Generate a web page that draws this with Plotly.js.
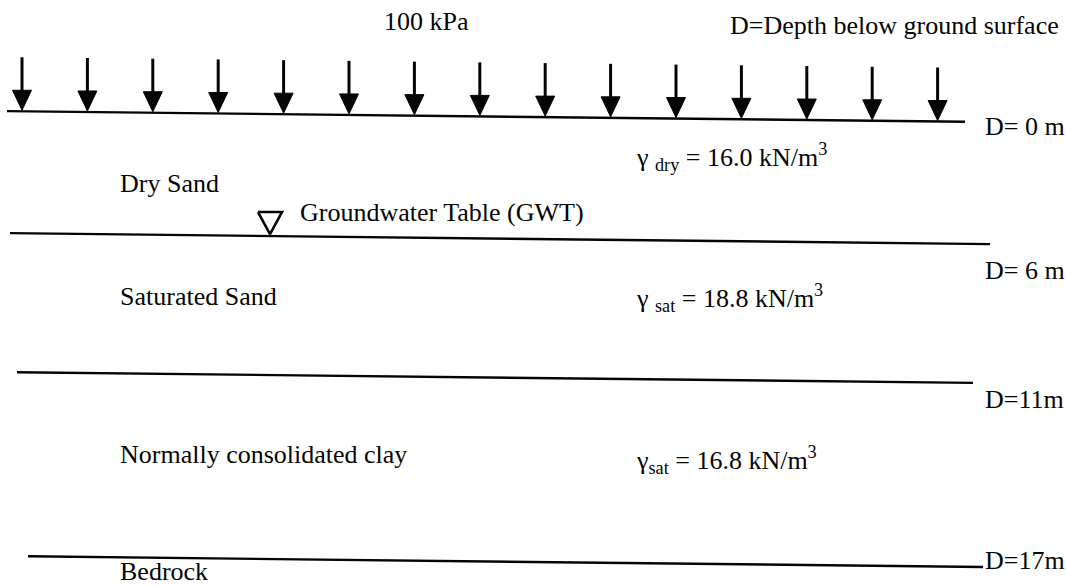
<!DOCTYPE html>
<html>
<head>
<meta charset="utf-8">
<script src="https://cdn.plot.ly/plotly-3.0.1.min.js"></script>
<style>
  html, body { margin: 0; padding: 0; background: #ffffff; }
  #chart { width: 1066px; height: 586px; }
</style>
</head>
<body>
<div id="chart"></div>
<script>
// ---------------- DATA ----------------
const surchargeKPa = 100;
const surchargeArrowCount = 15;
const depthNote = "D=Depth below ground surface";
const boundaryDepthsM = [0, 6, 11, 17];
const depthLabels = ["D= 0 m", "D= 6 m", "D=11m", "D=17m"];
const layerNames = ["Dry Sand", "Saturated Sand", "Normally consolidated clay", "Bedrock"];
const unitWeightKinds = ["dry", "sat", "sat"];
const unitWeightValues = [16.0, 18.8, 16.8];
const gwtLabel = "Groundwater Table (GWT)";
const gwtDepthM = 6;

// ---------------- DRAWING (schematic, not to scale) ----------------
const W = 1066, H = 586;
const ink = "#050505";
const fontFamily = "Liberation Serif, Times New Roman, serif";
const fontSize = 26;
// schematic vertical position of each boundary (left end) and skew of the scan
const schematicY = {0: 111, 6: 233, 11: 372, 17: 556};
const skew = 0.0112;
const lineLeftX = [7, 10, 17, 28];
const lineRightX = [965, 990, 973, 983];
function yAt(depth, x) { return schematicY[depth] + skew * x; }

const arrowStartX = 22, arrowSpacing = 65.4, arrowLen = 53, headW = 19, headH = 20;
const labelLeftX = 118, weightLeftX = 634, depthLabelX = 983;
const layerLabelY = [183, 296, 454, 571];
const weightLabelY = [157, 298, 460];
const weightGap = [" ", " ", ""];
const depthLabelY = [126, 270, 399, 560];

const traces = [];

// boundary lines
boundaryDepthsM.forEach((d, i) => {
  traces.push({
    type: "scatter", mode: "lines",
    x: [lineLeftX[i], lineRightX[i]],
    y: [yAt(d, lineLeftX[i]), yAt(d, lineRightX[i])],
    line: {color: ink, width: 2.4},
    hoverinfo: "skip"
  });
});

// surcharge arrows
const shaftX = [], shaftY = [], headX = [], headY = [];
for (let i = 0; i < surchargeArrowCount; i++) {
  const x = arrowStartX + i * arrowSpacing;
  const tip = yAt(boundaryDepthsM[0], x) - 1;
  shaftX.push(x, x, null);
  shaftY.push(tip - arrowLen, tip - headH + 2, null);
  headX.push(x - headW / 2, x + headW / 2, x, x - headW / 2, null);
  headY.push(tip - headH, tip - headH, tip, tip - headH, null);
}
traces.push({type: "scatter", mode: "lines", x: shaftX, y: shaftY,
  line: {color: ink, width: 3}, hoverinfo: "skip"});
traces.push({type: "scatter", mode: "lines", x: headX, y: headY, fill: "toself",
  fillcolor: ink, line: {color: ink, width: 1}, hoverinfo: "skip"});

// groundwater table symbol (inverted triangle)
const triCx = 270, triW = 24, triH = 22;
const triTip = yAt(gwtDepthM, triCx) - 2;
traces.push({
  type: "scatter", mode: "lines",
  x: [triCx - triW / 2, triCx + triW / 2, triCx, triCx - triW / 2],
  y: [triTip - triH, triTip - triH, triTip, triTip - triH],
  line: {color: ink, width: 2.6}, hoverinfo: "skip"
});

// ---------------- TEXT ----------------
const annotations = [];
function txt(text, x, y, anchor) {
  annotations.push({
    text: text, x: x, y: y, xref: "x", yref: "y",
    xanchor: anchor || "left", yanchor: "middle", showarrow: false,
    font: {family: fontFamily, size: fontSize, color: ink}
  });
}
txt(surchargeKPa + " kPa", 382, 21);
txt(depthNote, 728, 25);
depthLabels.forEach((t, i) => txt(t, depthLabelX, depthLabelY[i]));
layerNames.forEach((t, i) => txt(t, labelLeftX, layerLabelY[i]));
unitWeightValues.forEach((v, i) => {
  txt("γ" + weightGap[i] + "<sub>" + unitWeightKinds[i] + "</sub> = " + v.toFixed(1) + " kN/m<sup>3</sup>",
      weightLeftX, weightLabelY[i]);
});
txt(gwtLabel, 298, 212);

const layout = {
  width: W, height: H,
  margin: {l: 0, r: 0, t: 0, b: 0, pad: 0},
  paper_bgcolor: "#ffffff", plot_bgcolor: "#ffffff",
  showlegend: false,
  xaxis: {range: [0, W], visible: false, fixedrange: true},
  yaxis: {range: [H, 0], visible: false, fixedrange: true},
  annotations: annotations
};

Plotly.newPlot("chart", traces, layout, {staticPlot: true, displayModeBar: false});
</script>
</body>
</html>
